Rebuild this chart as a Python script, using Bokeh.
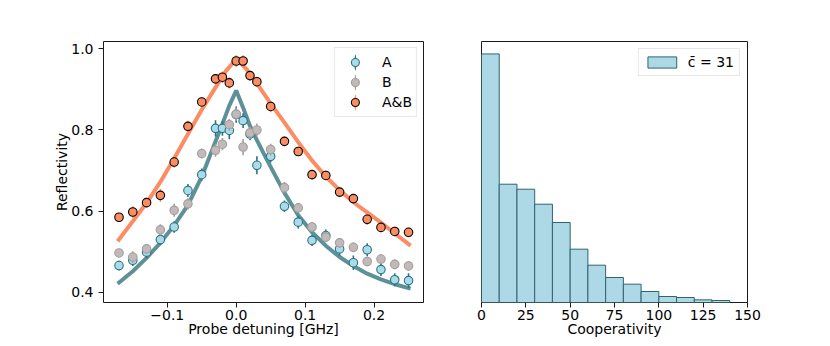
import numpy as np
from bokeh.plotting import figure
from bokeh.models import Range1d, FixedTicker, Legend, LegendItem, ColumnDataSource
from bokeh.layouts import row
from bokeh.embed import file_html
from bokeh.resources import INLINE

# ---------------- data ----------------
detuning = [-0.17, -0.15, -0.13, -0.11, -0.09, -0.07, -0.05, -0.03, -0.02, -0.01,
            0.0, 0.01, 0.02, 0.03, 0.05, 0.07, 0.09, 0.11, 0.13, 0.15,
            0.17, 0.19, 0.21, 0.23, 0.25]
refl_A = [0.466, 0.479, 0.499, 0.530, 0.561, 0.651, 0.690, 0.804, 0.804, 0.799,
          0.838, 0.823, 0.790, 0.713, 0.735, 0.612, 0.573, 0.528, 0.540, 0.507,
          0.473, 0.505, 0.456, 0.431, 0.429]
err_A = [0.012, 0.014, 0.015, 0.013, 0.014, 0.016, 0.015, 0.020, 0.018, 0.022,
         0.020, 0.018, 0.015, 0.022, 0.015, 0.014, 0.016, 0.014, 0.015, 0.016,
         0.018, 0.016, 0.016, 0.016, 0.018]
refl_B = [0.497, 0.487, 0.507, 0.554, 0.602, 0.618, 0.742, 0.750, 0.765, 0.813,
          0.839, 0.758, 0.793, 0.800, 0.752, 0.658, 0.608, 0.561, 0.536, 0.522,
          0.511, 0.476, 0.482, 0.469, 0.465]
err_B = [0.010, 0.014, 0.012, 0.014, 0.016, 0.014, 0.012, 0.016, 0.015, 0.014,
         0.016, 0.020, 0.015, 0.016, 0.014, 0.014, 0.012, 0.012, 0.012, 0.012,
         0.012, 0.012, 0.012, 0.012, 0.012]
refl_AB = [0.585, 0.598, 0.621, 0.639, 0.721, 0.809, 0.869, 0.926, 0.930, 0.916,
           0.970, 0.970, 0.934, 0.919, 0.858, 0.772, 0.747, 0.690, 0.688, 0.647,
           0.631, 0.580, 0.560, 0.550, 0.548]
err_AB = [0.010, 0.014, 0.012, 0.016, 0.014, 0.014, 0.012, 0.012, 0.014, 0.014,
          0.014, 0.014, 0.012, 0.012, 0.014, 0.012, 0.012, 0.012, 0.012, 0.012,
          0.012, 0.014, 0.012, 0.012, 0.012]

fit_x_A = [-0.172, -0.15, -0.13, -0.11, -0.09, -0.07, -0.05, -0.035, -0.02, -0.01,
           0.0, 0.01, 0.02, 0.03, 0.045, 0.06, 0.07, 0.09, 0.11, 0.13,
           0.15, 0.17, 0.19, 0.21, 0.23, 0.253]
fit_y_A = [0.421, 0.452, 0.485, 0.522, 0.565, 0.615, 0.685, 0.750, 0.815, 0.860,
           0.897, 0.855, 0.810, 0.775, 0.725, 0.677, 0.645, 0.590, 0.548, 0.515,
           0.487, 0.465, 0.446, 0.432, 0.420, 0.409]
fit_x_AB = [-0.172, -0.15, -0.13, -0.11, -0.09, -0.07, -0.05, -0.03, -0.015, 0.0,
            0.015, 0.03, 0.05, 0.07, 0.09, 0.11, 0.13, 0.15, 0.17, 0.19,
            0.21, 0.23, 0.253]
fit_y_AB = [0.526, 0.575, 0.620, 0.672, 0.730, 0.790, 0.850, 0.905, 0.945, 0.975,
            0.950, 0.915, 0.865, 0.818, 0.770, 0.725, 0.685, 0.652, 0.622, 0.597,
            0.572, 0.545, 0.515]

x_ticks = [-0.1, 0.0, 0.1, 0.2]
x_tick_labels = ["\u22120.1", "0.0", "0.1", "0.2"]
y_ticks = [0.4, 0.6, 0.8, 1.0]
y_tick_labels = ["0.4", "0.6", "0.8", "1.0"]

coop_edges = [0, 10, 20, 30, 40, 50, 60, 70, 80, 90, 100, 110, 120, 130, 140]
coop_counts = [746, 355, 340, 295, 240, 160, 112, 75, 55, 33, 18, 15, 8, 6]
coop_ticks = [0, 25, 50, 75, 100, 125, 150]
coop_mean_label = "c\u0304 = 31"

# ---------------- style ----------------
FONT = "DejaVu Sans"
FS = "14px"
C_A_FILL, C_A_EDGE = "#a9dbe8", "#2b7486"
C_B_FILL, C_B_EDGE = "#c2baba", "#a59d9d"
C_AB_FILL, C_AB_ERR = "#fc8d62", "#fc8d62"
C_FIT_A, C_FIT_AB = "#5e9098", "#fc8d62"


def style_axes(p):
    p.outline_line_color = "#1a1a1a"
    p.outline_line_width = 1
    p.xgrid.visible = False
    p.ygrid.visible = False
    for ax in p.axis:
        ax.axis_line_color = None
        ax.major_tick_line_color = "#1a1a1a"
        ax.major_tick_out = 5
        ax.major_tick_in = 0
        ax.minor_tick_line_color = None
        ax.major_label_text_font = FONT
        ax.major_label_text_font_size = FS
        ax.major_label_text_color = "black"
        ax.axis_label_text_font = FONT
        ax.axis_label_text_font_size = FS
        ax.axis_label_text_font_style = "normal"
        ax.axis_label_text_color = "black"


# ---------------- left panel ----------------
p1 = figure(width=443, height=344, x_range=Range1d(-0.1925, 0.2717),
            y_range=Range1d(0.375, 1.018), output_backend="svg",
            toolbar_location=None, min_border_left=103, min_border_right=20,
            min_border_top=41, min_border_bottom=42)
p1.background_fill_color = "white"
p1.border_fill_color = "white"

p1.line(fit_x_A, fit_y_A, line_color=C_FIT_A, line_width=4)
p1.line(fit_x_AB, fit_y_AB, line_color=C_FIT_AB, line_width=4)

def add_series(x, y, e, fill, edge, err_color):
    lo = [a - b for a, b in zip(y, e)]
    hi = [a + b for a, b in zip(y, e)]
    src = ColumnDataSource(dict(x=x, y=y, lo=lo, hi=hi))
    p1.segment(x0="x", y0="lo", x1="x", y1="hi", source=src,
               line_color=err_color, line_width=1.6)
    # legend-only handle: a thin vertical bar (drawn outside the visible range)
    bar = p1.ellipse(x=[-10], y=[-10], width=1.6, height=14,
                     width_units="screen", height_units="screen",
                     fill_color=err_color, line_color=None)
    pts = p1.scatter(x="x", y="y", source=src, marker="circle", size=8.5,
                     fill_color=fill, line_color=edge, line_width=1.1)
    return [bar, pts]

rA = add_series(detuning, refl_A, err_A, C_A_FILL, C_A_EDGE, C_A_EDGE)
rB = add_series(detuning, refl_B, err_B, C_B_FILL, C_B_EDGE, C_B_EDGE)
rAB = add_series(detuning, refl_AB, err_AB, C_AB_FILL, "black", C_AB_ERR)

style_axes(p1)
p1.xaxis.ticker = FixedTicker(ticks=x_ticks)
p1.xaxis.major_label_overrides = dict(zip(x_ticks, x_tick_labels))
p1.yaxis.ticker = FixedTicker(ticks=y_ticks)
p1.yaxis.major_label_overrides = dict(zip(y_ticks, y_tick_labels))
p1.xaxis.axis_label = "Probe detuning [GHz]"
p1.yaxis.axis_label = "Reflectivity"
p1.xaxis.major_label_standoff = 2
p1.xaxis.axis_label_standoff = -2
p1.yaxis.major_label_standoff = 5
p1.yaxis.axis_label_standoff = -2

leg1 = Legend(items=[LegendItem(label="A", renderers=rA),
                     LegendItem(label="B", renderers=rB),
                     LegendItem(label="A&B", renderers=rAB)],
              location="top_right", margin=6, padding=4, spacing=0,
              glyph_width=32, glyph_height=20, label_standoff=11,
              label_text_font=FONT, label_text_font_size=FS,
              label_text_color="black",
              border_line_color="#d0d0d0", border_line_width=1,
              background_fill_alpha=0.8)
p1.add_layout(leg1)

# ---------------- right panel ----------------
p2 = figure(width=324, height=344, x_range=Range1d(0, 150),
            y_range=Range1d(0, max(coop_counts) * 1.05), output_backend="svg",
            toolbar_location=None, min_border_left=38, min_border_right=20,
            min_border_top=41, min_border_bottom=42)
hist = p2.quad(left=coop_edges[:-1], right=coop_edges[1:], bottom=0, top=coop_counts,
               fill_color="#add8e6", line_color="#2f6470", line_width=1)
style_axes(p2)
p2.yaxis.visible = False
p2.xaxis.ticker = FixedTicker(ticks=coop_ticks)
p2.xaxis.axis_label = "Cooperativity"
p2.xaxis.major_label_standoff = 2
p2.xaxis.axis_label_standoff = -2

leg2 = Legend(items=[LegendItem(label=coop_mean_label, renderers=[hist])],
              location="top_right", margin=7, padding=5, spacing=0,
              glyph_width=36, glyph_height=14, label_standoff=8,
              label_text_font=FONT, label_text_font_size=FS,
              label_text_color="black",
              border_line_color="#d0d0d0", border_line_width=1,
              background_fill_alpha=0.8)
p2.add_layout(leg2)

layout = row(p1, p2)
open("out.html", "w").write(file_html(layout, INLINE))
